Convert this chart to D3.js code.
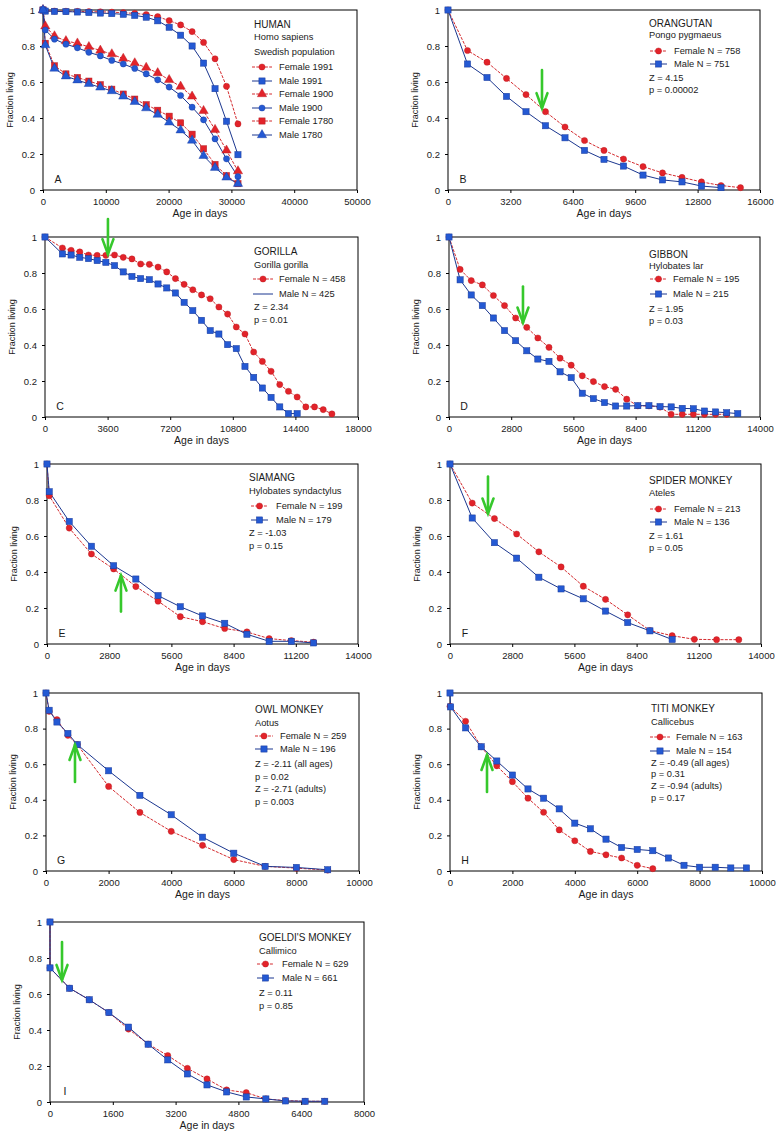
<!DOCTYPE html>
<html><head><meta charset="utf-8">
<script src="https://cdn.jsdelivr.net/npm/d3@7"></script>
<style>
body{margin:0;background:#fff}
svg{display:block}
text{font-family:"Liberation Sans",Arial,Helvetica,sans-serif;fill:#1a1a1a}
</style>
</head><body>
<svg id="c" width="779" height="1133"></svg>
<script>
// ---------------- DATA ----------------
// A: Human, Swedish population (age in days)
const humanAge = [0,365,1826,3652,5479,7305,9131,10957,12783,14610,16436,18262,20089,21915,23741,25567,27394,29220,31046];
const humanFemale1991 = [1,0.995,0.994,0.993,0.992,0.991,0.99,0.988,0.985,0.981,0.975,0.963,0.941,0.917,0.88,0.82,0.729,0.576,0.367];
const humanMale1991   = [1,0.994,0.992,0.991,0.989,0.986,0.983,0.98,0.976,0.97,0.96,0.94,0.904,0.86,0.80,0.705,0.563,0.382,0.196];
const humanFemale1900 = [1,0.91,0.855,0.828,0.815,0.795,0.775,0.755,0.73,0.705,0.68,0.65,0.612,0.575,0.52,0.44,0.335,0.22,0.105];
const humanMale1900   = [1,0.889,0.838,0.81,0.79,0.765,0.745,0.72,0.70,0.675,0.645,0.612,0.572,0.525,0.46,0.39,0.284,0.173,0.074];
const humanFemale1780 = [1,0.815,0.69,0.645,0.625,0.605,0.585,0.56,0.533,0.505,0.474,0.443,0.41,0.373,0.31,0.229,0.142,0.08,0.035];
const humanMale1780   = [1,0.805,0.675,0.632,0.61,0.59,0.57,0.55,0.52,0.49,0.455,0.419,0.376,0.332,0.275,0.19,0.124,0.07,0.035];

// B: Orangutan
const orangFemaleAge = [0,1000,2000,3000,4000,5000,6000,7000,8000,9000,10000,11000,12000,13000,14000,15000];
const orangFemale    = [1,0.775,0.71,0.62,0.53,0.435,0.35,0.275,0.22,0.172,0.13,0.095,0.07,0.045,0.025,0.013];
const orangMaleAge   = [0,1000,2000,3000,4000,5000,6000,7000,8000,9000,10000,11000,12000,13000,14000];
const orangMale      = [1,0.70,0.625,0.52,0.435,0.357,0.29,0.22,0.17,0.133,0.083,0.056,0.045,0.022,0.013];

// C: Gorilla
const gorFemaleAge = [0,1000,1500,2000,2500,3000,3500,4000,4500,5000,5500,6000,6500,7000,7500,8000,8500,9000,9500,10000,10500,11000,11500,12000,12500,13000,13500,14000,14500,15000,15500,16000,16500];
const gorFemale    = [1,0.939,0.926,0.917,0.90,0.898,0.898,0.90,0.887,0.878,0.85,0.848,0.833,0.806,0.769,0.737,0.707,0.678,0.657,0.611,0.572,0.50,0.461,0.361,0.309,0.254,0.18,0.143,0.111,0.056,0.056,0.041,0.017];
const gorMaleAge   = [0,1000,1500,2000,2500,3000,3500,4000,4500,5000,5500,6000,6500,7000,7500,8000,8500,9000,9500,10000,10500,11000,11500,12000,12500,13000,13500,14000,14500];
const gorMale      = [1,0.906,0.90,0.887,0.88,0.869,0.859,0.841,0.806,0.781,0.769,0.763,0.739,0.717,0.689,0.637,0.591,0.537,0.48,0.461,0.402,0.38,0.281,0.22,0.161,0.109,0.056,0.019,0.019];

// D: Gibbon
const gibFemaleAge = [0,500,1000,1500,2000,2500,3000,3500,4000,4500,5000,5500,6000,6500,7000,7500,8000,8500,9000,9500,10000,10500,11000,11500,12000,12500];
const gibFemale    = [1,0.82,0.758,0.734,0.675,0.619,0.55,0.498,0.439,0.387,0.327,0.288,0.229,0.197,0.169,0.154,0.099,0.062,0.062,0.055,0.015,0.015,0.015,0.015,0.015,0.015];
const gibMaleAge   = [0,500,1000,1500,2000,2500,3000,3500,4000,4500,5000,5500,6000,6500,7000,7500,8000,8500,9000,9500,10000,10500,11000,11500,12000,12500,13000];
const gibMale      = [1,0.762,0.678,0.619,0.55,0.48,0.424,0.368,0.322,0.309,0.251,0.219,0.132,0.102,0.08,0.061,0.061,0.063,0.063,0.058,0.056,0.048,0.046,0.033,0.028,0.024,0.019];

// E: Siamang
const siaAge    = [0,100,1000,2000,3000,4000,5000,6000,7000,8000,9000,10000,11000,12000];
const siaFemale = [1,0.824,0.644,0.50,0.417,0.319,0.238,0.152,0.124,0.086,0.067,0.03,0.019,0.01];
const siaMale   = [1,0.846,0.681,0.543,0.435,0.361,0.269,0.207,0.156,0.115,0.054,0.015,0.015,0.006];

// F: Spider monkey
const spiderFemaleAge = [0,1000,2000,3000,4000,5000,6000,7000,8000,9000,10000,11000,12000,13000];
const spiderFemale    = [1,0.783,0.697,0.611,0.512,0.428,0.321,0.248,0.162,0.075,0.046,0.026,0.024,0.024];
const spiderMaleAge   = [0,1000,2000,3000,4000,5000,6000,7000,8000,9000,10000];
const spiderMale      = [1,0.70,0.563,0.477,0.371,0.306,0.251,0.183,0.119,0.073,0.025];

// G: Owl monkey
const owlAge    = [0,100,350,700,1000,2000,3000,4000,5000,6000,7000,8000,9000];
const owlFemale = [1,0.897,0.85,0.762,0.71,0.475,0.329,0.223,0.144,0.064,0.026,0.016,0.005];
const owlMale   = [1,0.903,0.837,0.773,0.71,0.563,0.425,0.316,0.19,0.10,0.026,0.02,0.007];

// H: Titi monkey
const titiFemaleAge = [0,500,1000,1500,2000,2500,3000,3500,4000,4500,5000,5500,6000,6500];
const titiFemale    = [0.925,0.841,0.698,0.591,0.502,0.409,0.33,0.231,0.17,0.11,0.091,0.073,0.032,0.013];
const titiMaleAge   = [0,20,500,1000,1500,2000,2500,3000,3500,4000,4500,5000,5500,6000,6500,7000,7500,8000,8500,9000,9500];
const titiMale      = [1,0.922,0.804,0.698,0.618,0.539,0.461,0.409,0.349,0.269,0.237,0.179,0.132,0.121,0.114,0.073,0.032,0.021,0.021,0.017,0.017];

// I: Goeldi's monkey
const goeldiAge    = [0,0,500,1000,1500,2000,2500,3000,3500,4000,4500,5000,5500,6000,6500,7000];
const goeldiFemale = [1,0.745,0.632,0.568,0.497,0.405,0.322,0.258,0.187,0.128,0.067,0.052,0.017,0.008,0.004,0.004];
const goeldiMale   = [1,0.745,0.632,0.568,0.497,0.416,0.321,0.234,0.156,0.095,0.056,0.028,0.017,0.006,0.004,0.004];

// tick labels
const yTicks = [0,0.2,0.4,0.6,0.8,1];
const ticksA = [0,10000,20000,30000,40000,50000];
const ticksB = [0,3200,6400,9600,12800,16000];
const ticksC = [0,3600,7200,10800,14400,18000];
const ticksDEF = [0,2800,5600,8400,11200,14000];
const ticksGH = [0,2000,4000,6000,8000,10000];
const ticksI = [0,1600,3200,4800,6400,8000];

// ---------------- STYLE ----------------
const RED = '#e2232a', RED_LINE = '#d42a2e', BLUE = '#2459d3', BLUE_LINE = '#1b3790', GREEN = '#36c82c';

const F = (x,y,shape)=>({x,y,shape,color:'red'});
const M = (x,y,shape)=>({x,y,shape,color:'blue'});

const panels = [
 {letter:'A', x0:43,x1:357,y1:10,y0:190, xmax:50000, xt:ticksA,
  series:[F(humanAge,humanFemale1991,'circle'),M(humanAge,humanMale1991,'square'),F(humanAge,humanFemale1900,'triangle'),M(humanAge,humanMale1900,'circle'),F(humanAge,humanFemale1780,'square'),M(humanAge,humanMale1780,'triangle')],
  leg:{tx0:254, lx0:252, lx1:272, tx:279, rows:[['t','HUMAN',24,1],['t','Homo sapiens',37],['t','Swedish population',52],['e',0,'Female 1991',67],['e',1,'Male 1991',81],['e',2,'Female 1900',94],['e',3,'Male 1900',108],['e',4,'Female 1780',121],['e',5,'Male 1780',135]]}},
 {letter:'B', x0:448,x1:760,y1:10,y0:190, xmax:16000, xt:ticksB,
  series:[F(orangFemaleAge,orangFemale,'circle'),M(orangMaleAge,orangMale,'square')],
  arrow:{x:4820,from:0.667,to:0.455},
  leg:{tx0:649, lx0:650, lx1:667, tx:674, rows:[['t','ORANGUTAN',23,1],['t','Pongo pygmaeus',35],['e',0,'Female N = 758',51],['e',1,'Male N = 751',64],['t','Z = 4.15',78],['t','p = 0.00002',90]]}},
 {letter:'C', x0:45,x1:358,y1:237,y0:417, xmax:18000, xt:ticksC,
  series:[F(gorFemaleAge,gorFemale,'circle'),M(gorMaleAge,gorMale,'square')],
  arrow:{x:3620,from:1.10,to:0.905},
  leg:{tx0:254, lx0:253, lx1:273, tx:279, rows:[['t','GORILLA',251,1],['t','Gorilla gorilla',265],['e',0,'Female N = 458',279],['e',1,'Male N = 425',294,'nomarker'],['t','Z = 2.34',307],['t','p = 0.01',320]]}},
 {letter:'D', x0:449,x1:760,y1:237,y0:417, xmax:14000, xt:ticksDEF,
  series:[F(gibFemaleAge,gibFemale,'circle'),M(gibMaleAge,gibMale,'square')],
  arrow:{x:3330,from:0.725,to:0.525},
  leg:{tx0:649, lx0:650, lx1:667, tx:673, rows:[['t','GIBBON',254,1],['t','Hylobates lar',266],['e',0,'Female N = 195',279],['e',1,'Male N = 215',294],['t','Z = 1.95',309],['t','p = 0.03',321]]}},
 {letter:'E', x0:47,x1:358,y1:464,y0:644, xmax:14000, xt:ticksDEF,
  series:[F(siaAge,siaFemale,'circle'),M(siaAge,siaMale,'square')],
  arrow:{x:3330,from:0.18,to:0.38},
  leg:{tx0:249, lx0:251, lx1:268, tx:276, rows:[['t','SIAMANG',477,1],['t','Hylobates syndactylus',491],['e',0,'Female N = 199',506],['e',1,'Male N = 179',520],['t','Z = -1.03',533],['t','p = 0.15',546]]}},
 {letter:'F', x0:450,x1:761,y1:464,y0:644, xmax:14000, xt:ticksDEF,
  series:[F(spiderFemaleAge,spiderFemale,'circle'),M(spiderMaleAge,spiderMale,'square')],
  arrow:{x:1710,from:0.93,to:0.725},
  leg:{tx0:649, lx0:650, lx1:667, tx:674, rows:[['t','SPIDER MONKEY',480,1],['t','Ateles',493],['e',0,'Female N = 213',509],['e',1,'Male N = 136',522],['t','Z = 1.61',536],['t','p = 0.05',548]]}},
 {letter:'G', x0:46,x1:359,y1:693,y0:871, xmax:10000, xt:ticksGH,
  series:[F(owlAge,owlFemale,'circle'),M(owlAge,owlMale,'square')],
  arrow:{x:926,from:0.50,to:0.708},
  leg:{tx0:255, lx0:255, lx1:273, tx:280, rows:[['t','OWL MONKEY',709,1],['t','Aotus',723],['e',0,'Female N = 259',736],['e',1,'Male N = 196',749],['t','Z = -2.11 (all ages)',764],['t','p = 0.02',777],['t','Z = -2.71 (adults)',789],['t','p = 0.003',802]]}},
 {letter:'H', x0:450,x1:762,y1:693,y0:871, xmax:10000, xt:ticksGH,
  series:[F(titiFemaleAge,titiFemale,'circle'),M(titiMaleAge,titiMale,'square')],
  arrow:{x:1186,from:0.444,to:0.652},
  leg:{tx0:651, lx0:650, lx1:670, tx:676, rows:[['t','TITI MONKEY',708,1],['t','Callicebus',722],['e',0,'Female N = 163',737],['e',1,'Male N = 154',751],['t','Z = -0.49 (all ages)',763],['t','p = 0.31',774],['t','Z = -0.94 (adults)',786],['t','p = 0.17',798]]}},
 {letter:'I', x0:50,x1:364,y1:922,y0:1102, xmax:8000, xt:ticksI,
  series:[F(goeldiAge,goeldiFemale,'circle'),M(goeldiAge,goeldiMale,'square')],
  arrow:{x:306,from:0.889,to:0.678},
  leg:{tx0:259, lx0:257, lx1:274, tx:282, rows:[['t',"GOELDI'S MONKEY",937,1],['t','Callimico',951],['e',0,'Female N = 629',964],['e',1,'Male N = 661',978],['t','Z = 0.11',993],['t','p = 0.85',1006]]}}
];

const svg = d3.select('#c');

function drawMarker(sel, shape, color){
  const fill = color==='red'? RED : BLUE;
  const stroke = color==='red'? '#b51c22' : '#1a3a9a';
  if(shape==='circle'){
    sel.append('circle').attr('r',3.1).attr('fill',fill).attr('stroke',stroke).attr('stroke-width',0.4);
  } else if(shape==='square'){
    sel.append('rect').attr('x',-3.1).attr('y',-3.1).attr('width',6.2).attr('height',6.2).attr('fill',fill).attr('stroke',stroke).attr('stroke-width',0.5);
  } else {
    sel.append('path').attr('d',d3.symbol(d3.symbolTriangle,38)()).attr('fill',fill).attr('stroke',stroke).attr('stroke-width',0.4);
  }
}

function lineStyle(sel,color){
  if(color==='red') sel.attr('stroke',RED_LINE).attr('stroke-width',1).attr('stroke-dasharray','3,1.3');
  else sel.attr('stroke',BLUE_LINE).attr('stroke-width',1);
}

panels.forEach(p=>{
  const g = svg.append('g');
  const x = d3.scaleLinear().domain([0,p.xmax]).range([p.x0,p.x1]);
  const y = d3.scaleLinear().domain([0,1]).range([p.y0,p.y1]);

  // axes
  const xa = g.append('g').attr('transform',`translate(0,${p.y0})`)
    .call(d3.axisBottom(x).tickValues(p.xt).tickSize(3).tickPadding(5).tickFormat(d3.format('d')));
  const ya = g.append('g').attr('transform',`translate(${p.x0},0)`)
    .call(d3.axisLeft(y).tickValues(yTicks).tickSize(3).tickPadding(5).tickFormat(d=>d===0?'0':d===1?'1':d3.format('.1f')(d)));
  [xa,ya].forEach(a=>{
    a.select('.domain').remove();
    a.selectAll('line').attr('stroke','#000');
    a.selectAll('text').attr('font-size',9.5).attr('fill','#1a1a1a').attr('font-family','"Liberation Sans",Arial,sans-serif');
  });

  // frame
  g.append('rect').attr('x',p.x0).attr('y',p.y1).attr('width',p.x1-p.x0).attr('height',p.y0-p.y1)
    .attr('fill','none').attr('stroke','#000').attr('stroke-width',1);

  // axis titles
  g.append('text').attr('x',(p.x0+p.x1)/2).attr('y',p.y0+27).attr('text-anchor','middle').attr('font-size',10.5).text('Age in days');
  g.append('text').attr('transform',`translate(${p.x0-30},${(p.y0+p.y1)/2}) rotate(-90)`).attr('text-anchor','middle').attr('font-size',9).text('Fraction living');
  g.append('text').attr('x',p.x0+15).attr('y',p.y0-11).attr('dy','0.35em').attr('text-anchor','middle').attr('font-size',10.5).text(p.letter);

  // series: red first, blue on top
  const ordered = p.series.map((s,i)=>({s,i})).sort((a,b)=>(a.s.color==='red'?0:1)-(b.s.color==='red'?0:1));
  const line = d3.line().x(d=>x(d[0])).y(d=>y(d[1]));
  ordered.forEach(({s})=>{
    const pts = s.x.map((v,k)=>[v,s.y[k]]);
    g.append('path').datum(pts).attr('d',line).attr('fill','none').call(lineStyle,s.color);
  });
  ordered.forEach(({s})=>{
    const pts = s.x.map((v,k)=>[v,s.y[k]]);
    g.append('g').selectAll('g').data(pts).join('g')
      .attr('transform',d=>`translate(${x(d[0])},${y(d[1])})`)
      .each(function(){ drawMarker(d3.select(this),s.shape,s.color); });
  });

  // green arrow
  if(p.arrow){
    const ax = x(p.arrow.x), ya0 = y(p.arrow.from), ya1 = y(p.arrow.to);
    const dir = ya1>ya0 ? 1 : -1;
    const ag = g.append('g').attr('stroke',GREEN).attr('fill','none').attr('stroke-width',2.6).attr('stroke-linecap','round');
    ag.append('line').attr('x1',ax).attr('y1',ya0).attr('x2',ax).attr('y2',ya1);
    ag.append('path').attr('d',`M${ax-5.5},${ya1-dir*15}L${ax},${ya1}L${ax+5.5},${ya1-dir*15}`).attr('stroke-linejoin','miter');
  }

  // legend
  const L = p.leg;
  L.rows.forEach(r=>{
    if(r[0]==='t'){
      g.append('text').attr('x',L.tx0).attr('y',r[2]).attr('dy','0.35em').attr('font-size',r[3]?10:9.3).text(r[1]);
    } else {
      const s = p.series[r[1]];
      const lg = g.append('g');
      lg.append('line').attr('x1',L.lx0).attr('x2',L.lx1).attr('y1',r[3]).attr('y2',r[3]).call(lineStyle,s.color);
      if(r[4]!=='nomarker'){
        const mg = lg.append('g').attr('transform',`translate(${(L.lx0+L.lx1)/2},${r[3]})`);
        drawMarker(mg,s.shape,s.color);
      }
      g.append('text').attr('x',L.tx).attr('y',r[3]).attr('dy','0.35em').attr('font-size',9.3).text(r[2]);
    }
  });
});
</script>
</body></html>
